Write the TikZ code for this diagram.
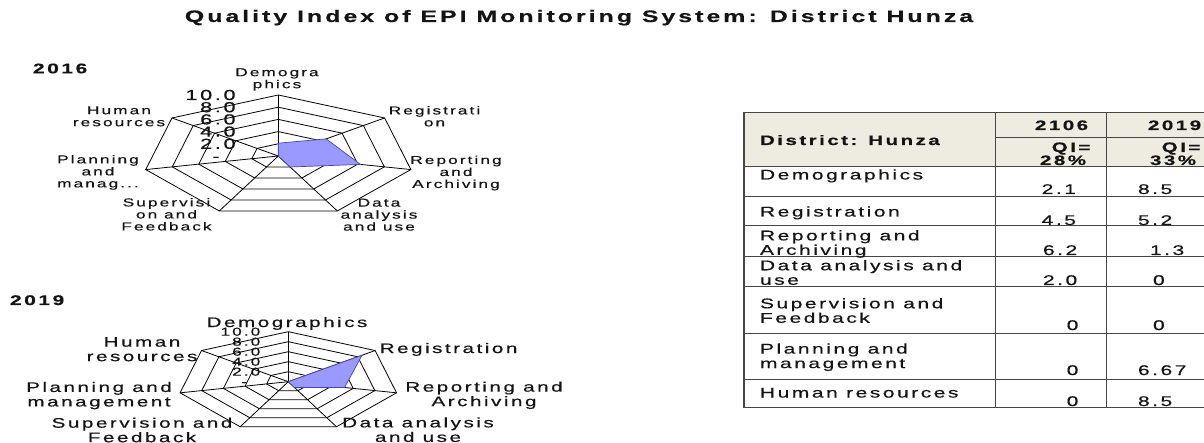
\documentclass[tikz,border=0pt]{standalone}
\usepackage{fontspec}
\setmainfont{Liberation Sans}[FakeStretch=1.5,LetterSpace=18,FakeBold=0.4]
\definecolor{polyfill}{RGB}{153,153,255}
\definecolor{polyedge}{RGB}{70,70,170}
\definecolor{hdrfill}{RGB}{238,236,225}
\definecolor{tline}{RGB}{70,70,70}
\definecolor{txt}{RGB}{20,20,20}
\tikzset{
  lbl/.style={inner sep=0pt, outer sep=0pt, text=txt},
  ttl/.style={lbl, font=\bfseries\fontsize{16.6}{18}\selectfont},
  yr/.style={lbl, anchor=base west, font=\bfseries\fontsize{14}{16}\selectfont},
  lblA/.style={lbl, align=center, font=\fontsize{11.5}{12}\selectfont},
  lblB/.style={lbl, align=center, font=\fontsize{13.8}{14.5}\selectfont},
  tickA/.style={lbl, anchor=east, font=\fontsize{14.5}{15}\selectfont},
  tickB/.style={lbl, anchor=east, font=\fontsize{11.5}{12}\selectfont},
  radgrid/.style={draw=black, line width=0.8pt},
  poly/.style={fill=polyfill, draw=polyedge, line width=0.7pt},
  tcell/.style={lbl, align=left, font=\fontsize{14}{14.5}\selectfont},
  thead/.style={lbl, anchor=base west, font=\bfseries\fontsize{13.7}{15}\selectfont},
  tval/.style={lbl, anchor=base west, font=\fontsize{14}{15}\selectfont},
  touter/.style={draw=tline, line width=1.4pt},
  tinner/.style={draw=tline, line width=1pt},
}
\begin{document}
\begin{tikzpicture}[x=1pt,y=-1pt]
\useasboundingbox (0,0) rectangle (1204,443);
\clip (0,0) rectangle (1204,443);
\fill[white] (0,0) rectangle (1204,443);

% title
\node[ttl, anchor=base] (title) at (579,22) {Quality Index of EPI Monitoring System: District Hunza};
\node[yr] (y16) at (33,73.3) {2016};
\node[yr] (y19) at (10,305) {2019};

% ---------- chart 2016 ----------
\coordinate (c1) at (278.3,156);
\begin{scope}[shift={(278.3,156)}, x=13.6pt, y=6.1pt]
  \foreach \r in {2,4,6,8,10}
    \draw[radgrid] (90:\r) \foreach \k in {1,...,6}{ -- (90-\k*360/7:\r)} -- cycle;
  \foreach \k in {0,...,6}{
    \coordinate (a\k) at (90-\k*360/7:10);
    \draw[radgrid] (c1) -- (a\k);
  }
  \filldraw[poly] (90:2.1) -- (90-360/7:4.5) -- (90-720/7:6.2) -- (90-1080/7:2.0) -- (0,0) -- cycle;
\end{scope}
\node[tickA] (t1a) at (235.6,95) {10.0};
\node[tickA] (t1b) at (235.6,107.2) {8.0};
\node[tickA] (t1c) at (235.6,119.4) {6.0};
\node[tickA] (t1d) at (235.6,131.6) {4.0};
\node[tickA] (t1e) at (235.6,143.8) {2.0};
\node[tickA] (t1f) at (219.6,159) {-};
\node[lblA] (d1) at (277,79.4) {Demogra\\phics};
\node[lblA] (r1) at (434.5,116.3) {Registrati\\on};
\node[lblA] (p1) at (456,173) {Reporting\\and\\Archiving};
\node[lblA] (da1) at (379,214.7) {Data\\analysis\\and use};
\node[lblA] (s1) at (166.5,214.3) {Supervisi\\on and\\Feedback};
\node[lblA] (pl1) at (98,172.4) {Planning\\and\\manag...};
\node[lblA] (h1) at (119,116.3) {Human\\resources};

% ---------- chart 2019 ----------
\coordinate (c2) at (288.3,381.7);
\begin{scope}[shift={(288.3,381.7)}, x=11.1pt, y=5pt]
  \foreach \r in {2,4,6,8,10}
    \draw[radgrid] (90:\r) \foreach \k in {1,...,6}{ -- (90-\k*360/7:\r)} -- cycle;
  \foreach \k in {0,...,6}{
    \coordinate (b\k) at (90-\k*360/7:10);
    \draw[radgrid] (c2) -- (b\k);
  }
  \filldraw[poly] (0,0) -- (90-360/7:8.5) -- (90-720/7:5.2) -- (90-1080/7:1.3) -- cycle;
\end{scope}
\node[tickB] (t2a) at (260.3,331.7) {10.0};
\node[tickB] (t2b) at (260.3,341.7) {8.0};
\node[tickB] (t2c) at (260.3,351.7) {6.0};
\node[tickB] (t2d) at (260.3,361.7) {4.0};
\node[tickB] (t2e) at (260.3,371.7) {2.0};
\node[tickB] (t2f) at (247,384) {-};
\node[lblB, anchor=base] (d2) at (287,327) {Demographics};
\node[lblB, anchor=base] (r2) at (448.5,353) {Registration};
\node[lblB] (p2) at (484,395.3) {Reporting and\\Archiving};
\node[lblB] (da2) at (418,429.7) {Data analysis\\and use};
\node[lblB] (s2) at (142,430) {Supervision and\\Feedback};
\node[lblB] (pl2) at (99,395.6) {Planning and\\management};
\node[lblB] (h2) at (142,349.2) {Human\\resources};

% ---------- table ----------
\fill[hdrfill] (744,112.3) rectangle (1218,166.7);
\foreach \yy in {166.7,197,226,256.7,286.7,333.3,379}
  \draw[tinner] (744,\yy) -- (1218,\yy);
\draw[tinner] (995.7,137.3) -- (1218,137.3);
\draw[tinner] (995.7,112.3) -- (995.7,407.7);
\draw[tinner] (1106.7,112.3) -- (1106.7,407.7);
\draw[touter] (744,112.3) rectangle (1218,407.7);

\node[thead] (th0) at (760,145) {District: Hunza};
\node[thead] (th1) at (1035,130) {2106};
\node[thead] (th2) at (1148,130) {2019};
\node[thead] (q1a) at (1051.7,152) {QI=};
\node[thead] (q1b) at (1040,165) {28\%};
\node[thead] (q2a) at (1161.7,152) {QI=};
\node[thead] (q2b) at (1150,165) {33\%};

\node[tcell, anchor=base west] (rDem) at (760,179.5) {Demographics};
\node[tcell, anchor=base west] (rReg) at (760,216.5) {Registration};
\node[tcell, anchor=west] (rRep) at (760,244) {Reporting and\\Archiving};
\node[tcell, anchor=west] (rDat) at (760,272.5) {Data analysis and\\use};
\node[tcell, anchor=west] (rSup) at (760,310.5) {Supervision and\\Feedback};
\node[tcell, anchor=west] (rPla) at (760,357.2) {Planning and\\management};
\node[tcell, anchor=base west] (rHum) at (760,397.5) {Human resources};

\node[tval] (v1a) at (1041.7,194) {2.1};
\node[tval] (v1b) at (1041.7,225) {4.5};
\node[tval] (v1c) at (1043,255) {6.2};
\node[tval] (v1d) at (1043,285) {2.0};
\node[tval] (v1e) at (1066.7,330) {0};
\node[tval] (v1f) at (1066.7,375) {0};
\node[tval] (v1g) at (1066.7,406) {0};
\node[tval] (v2a) at (1138,194) {8.5};
\node[tval] (v2b) at (1138,225) {5.2};
\node[tval] (v2c) at (1150,255) {1.3};
\node[tval] (v2d) at (1153,285) {0};
\node[tval] (v2e) at (1153,330) {0};
\node[tval] (v2f) at (1138,375) {6.67};
\node[tval] (v2g) at (1138,406) {8.5};
\end{tikzpicture}
\end{document}
